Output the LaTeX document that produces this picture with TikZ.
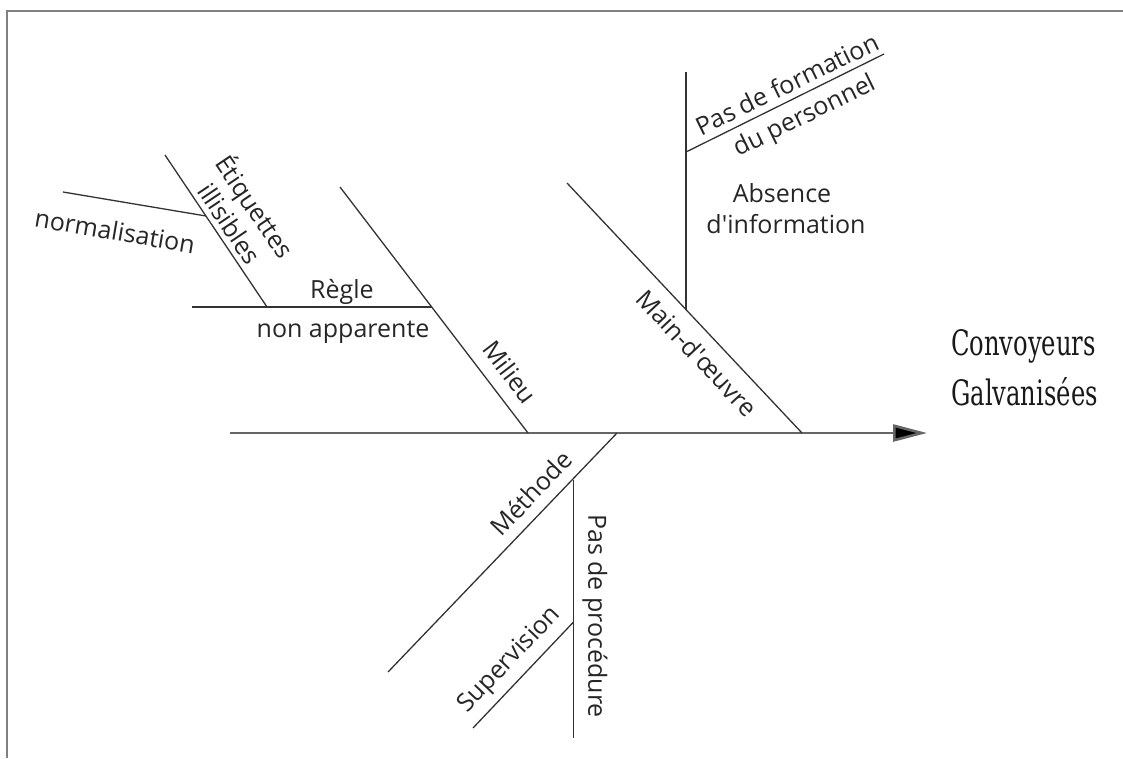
\documentclass[tikz,border=0pt]{standalone}
\usepackage{fontspec}
\setmainfont{Open Sans}
\newfontfamily\slabfont{DejaVu Serif Condensed}[FakeStretch=0.77]
\usetikzlibrary{arrows.meta}
\begin{document}
\begin{tikzpicture}[x=1pt,y=-1pt,
  bone/.style={draw=black!80, line width=1.3pt},
  spine/.style={draw=black!60, line width=2.6pt, -{Triangle[length=34pt,width=17pt,fill=black]}},
  frame/.style={draw=black!50, line width=2pt},
  lbl/.style={font=\fontsize{25}{30}\selectfont, text=black!85, inner sep=0pt},
]
\useasboundingbox (0,0) rectangle (1123,758);
% frame
\draw[frame] (7,758) -- (7,10.5) -- (1123,10.5);

% coordinates
\coordinate (sL) at (230,433);
\coordinate (sR) at (927,433);
\coordinate (miT) at (340,187);
\coordinate (miB) at (528,433);
\coordinate (reL) at (192,307);
\coordinate (reR) at (431.7,307);
\coordinate (etT) at (165,155);
\coordinate (etB) at (267,307);
\coordinate (noL) at (63,192);
\coordinate (noR) at (206,216);
\coordinate (moT) at (567,183);
\coordinate (moB) at (802,433);
\coordinate (abT) at (686,72);
\coordinate (abB) at (686,309.6);
\coordinate (pfL) at (686,152);
\coordinate (pfR) at (884,54);
\coordinate (meT) at (617,433);
\coordinate (meB) at (388,672);
\coordinate (ppT) at (573.5,480);
\coordinate (ppB) at (573.5,738);
\coordinate (suT) at (573.5,622);
\coordinate (suB) at (473,728);

% bones
\draw[spine] (sL) -- (sR);
\draw[bone] (miT) -- (miB);
\draw[bone] (reL) -- (reR);
\draw[bone] (etT) -- (etB);
\draw[bone] (noL) -- (noR);
\draw[bone] (moT) -- (moB);
\draw[bone] (abT) -- (abB);
\draw[bone] (pfL) -- (pfR);
\draw[bone] (meT) -- (meB);
\draw[bone] (ppT) -- (ppB);
\draw[bone] (suT) -- (suB);

% labels
\node[lbl, rotate=-9.7] (tno) at (115,231) {normalisation};
\node[lbl, rotate=-56, align=center] (tet) at (244,214) {Étiquettes\\illisibles};
\node[lbl, anchor=base] (tre) at (342,298) {Règle};
\node[lbl, anchor=base] (tna) at (343,337) {non apparente};
\node[lbl, rotate=-52.6] (tmi) at (510,372) {Milieu};
\node[lbl, rotate=-46.8] (tmo) at (697,353) {Main-d\textquotesingle œuvre};
\node[lbl, anchor=base] (tab) at (782,202) {Absence};
\node[lbl, anchor=base] (tdi) at (786,233) {d\textquotesingle information};
\node[lbl, rotate=26] (tpf) at (787,84) {Pas de formation};
\node[lbl, rotate=26] (tdp) at (805,117) {du personnel};
\node[lbl, rotate=46.3] (tme) at (531,493) {Méthode};
\node[lbl, rotate=-90] (tpp) at (595,616) {Pas de procédure};
\node[lbl, rotate=46.4] (tsu) at (510,660) {Supervision};
\node[inner sep=0pt, anchor=base west, font=\slabfont\fontsize{35}{50}\selectfont, align=left, text=black!90] (tcg) at (951,405) {Convoyeurs\\Galvanisées};
\end{tikzpicture}
\end{document}
